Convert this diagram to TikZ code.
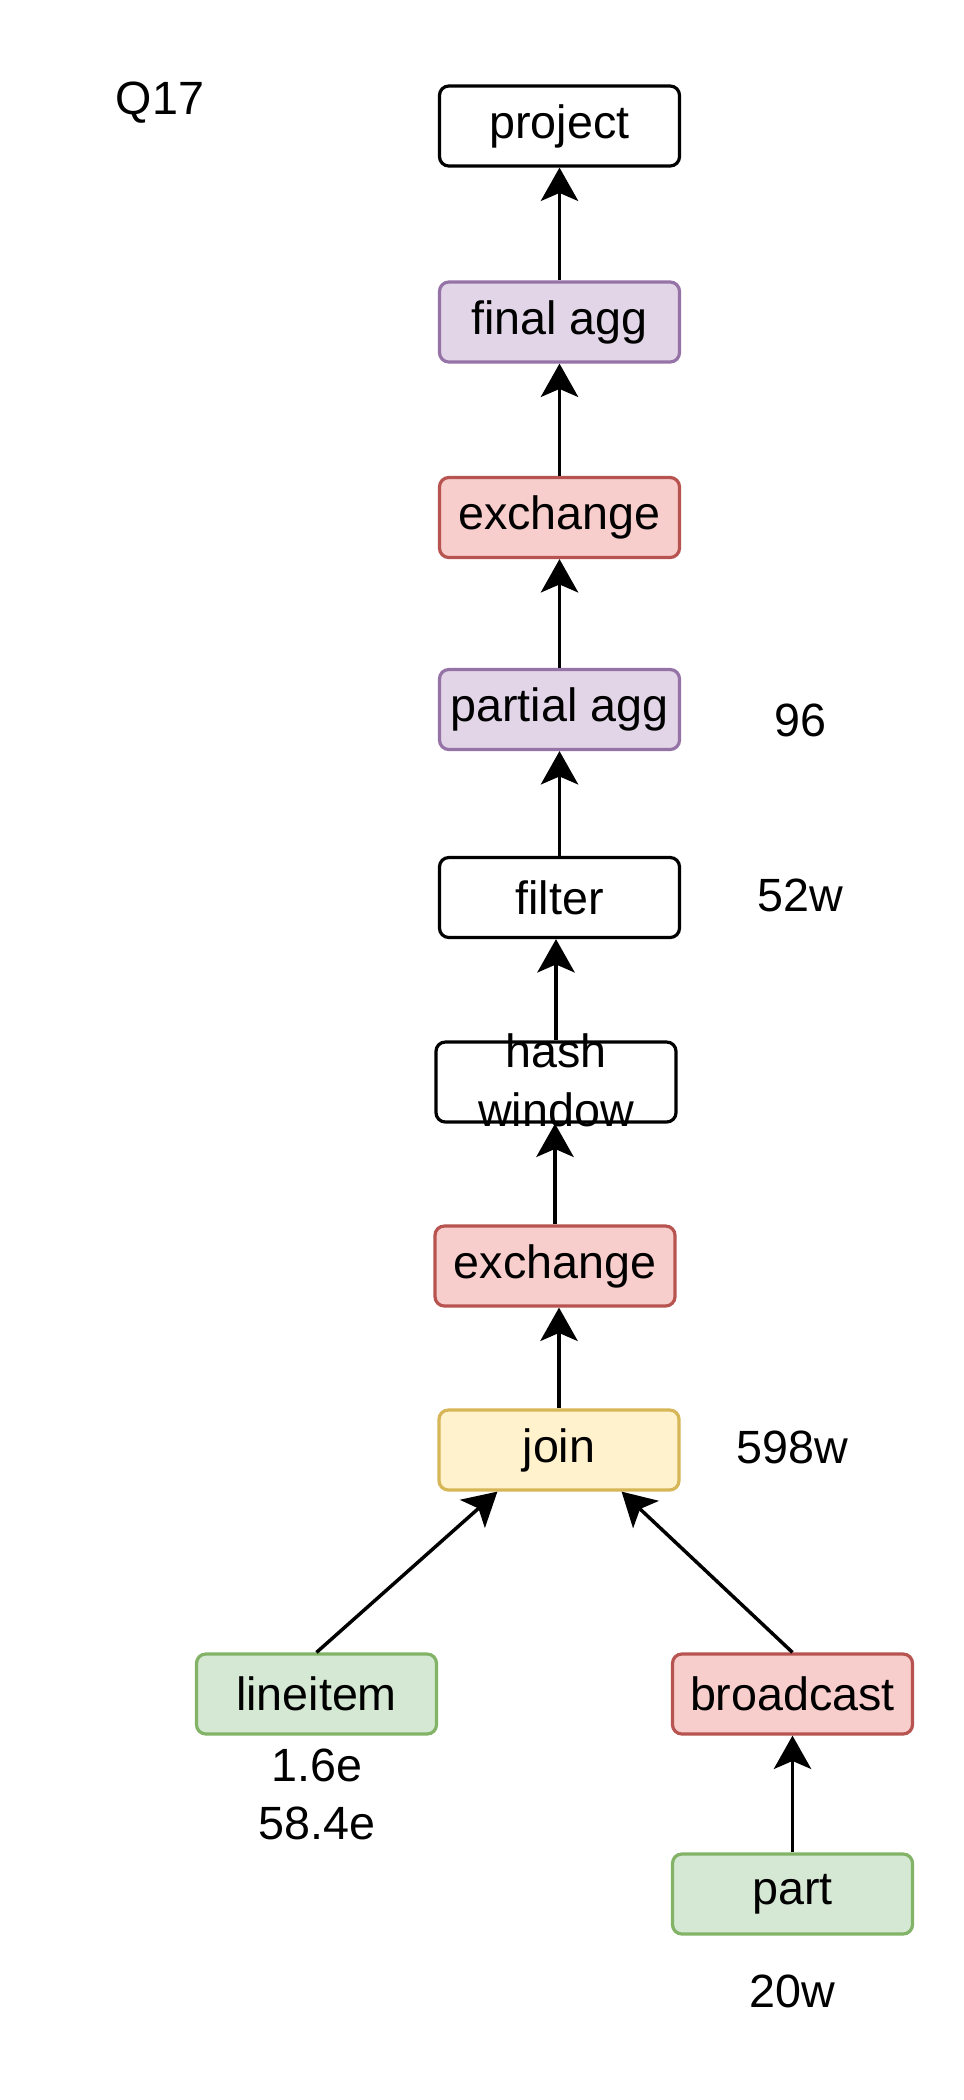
\documentclass[tikz,border=0pt]{standalone}
\usepackage{fontspec}
\setmainfont{Liberation Sans}
\usetikzlibrary{arrows.meta,calc}
\definecolor{purpleF}{HTML}{E1D5E7}
\definecolor{purpleD}{HTML}{9673A6}
\definecolor{redF}{HTML}{F8CECC}
\definecolor{redD}{HTML}{B85450}
\definecolor{yellowF}{HTML}{FFF2CC}
\definecolor{yellowD}{HTML}{D6B656}
\definecolor{greenF}{HTML}{D5E8D4}
\definecolor{greenD}{HTML}{82B366}
\begin{document}
\begin{tikzpicture}[x=0.75pt,y=-0.75pt,
  box/.style={draw, rounded corners=7pt, line width=2.4pt, minimum width=180pt, minimum height=60pt, inner sep=0pt, font=\fontsize{35}{42}\selectfont},
  wbox/.style={box, fill=white, draw=black},
  pbox/.style={box, fill=purpleF, draw=purpleD},
  rbox/.style={box, fill=redF, draw=redD},
  ybox/.style={box, fill=yellowF, draw=yellowD},
  gbox/.style={box, fill=greenF, draw=greenD},
  arr/.style={line width=2.6pt, -{Stealth[length=25pt,width=28pt,inset=6pt]}},
  lbl/.style={font=\fontsize{35}{42}\selectfont, inner sep=0pt}
]
\useasboundingbox[fill=white] (0,0) rectangle (964,2100);

\node[wbox] (project) at (559.5,126) {project};
\node[pbox] (finalagg) at (559.5,322) {final agg};
\node[rbox] (exch1) at (559.5,517.5) {exchange};
\node[pbox] (partialagg) at (559.5,709.5) {partial agg};
\node[wbox] (filter) at (559.5,897.5) {filter};
\node[wbox] (hashwin) at (556,1082) {};
\node[lbl, align=center, font=\fontsize{35}{44}\selectfont] (hwtext) at (556,1080) {hash\\window};
\node[rbox] (exch2) at (555,1266) {exchange};
\node[ybox] (join) at (559,1450) {join};
\node[gbox] (lineitem) at (316.5,1694) {lineitem};
\node[rbox] (broadcast) at (792.5,1694) {broadcast};
\node[gbox] (part) at (792.5,1894) {part};

\node[lbl] (q17) at (160,103) {Q17};
\node[lbl] (l96) at (800,720) {96};
\node[lbl] (l52w) at (800,895) {52w};
\node[lbl] (l598w) at (792,1447) {598w};
\node[lbl] (l16e) at (317,1765) {1.6e};
\node[lbl] (l584e) at (317,1823) {58.4e};
\node[lbl] (l20w) at (792,1991) {20w};

\draw[arr] (finalagg.north) -- (project.south);
\draw[arr] (exch1.north) -- (finalagg.south);
\draw[arr] (partialagg.north) -- (exch1.south);
\draw[arr] (filter.north) -- (partialagg.south);
\draw[arr] (hashwin.north) -- (hashwin.north |- filter.south);
\draw[arr] (exch2.north) -- (exch2.north |- hashwin.south);
\draw[arr] (join.north) -- (join.north |- exch2.south);
\draw[arr] (lineitem.north) -- ($(join.south west)+(60,0)$);
\draw[arr] (broadcast.north) -- ($(join.south east)+(-59,0)$);
\draw[arr] (part.north) -- (broadcast.south);
\end{tikzpicture}
\end{document}
